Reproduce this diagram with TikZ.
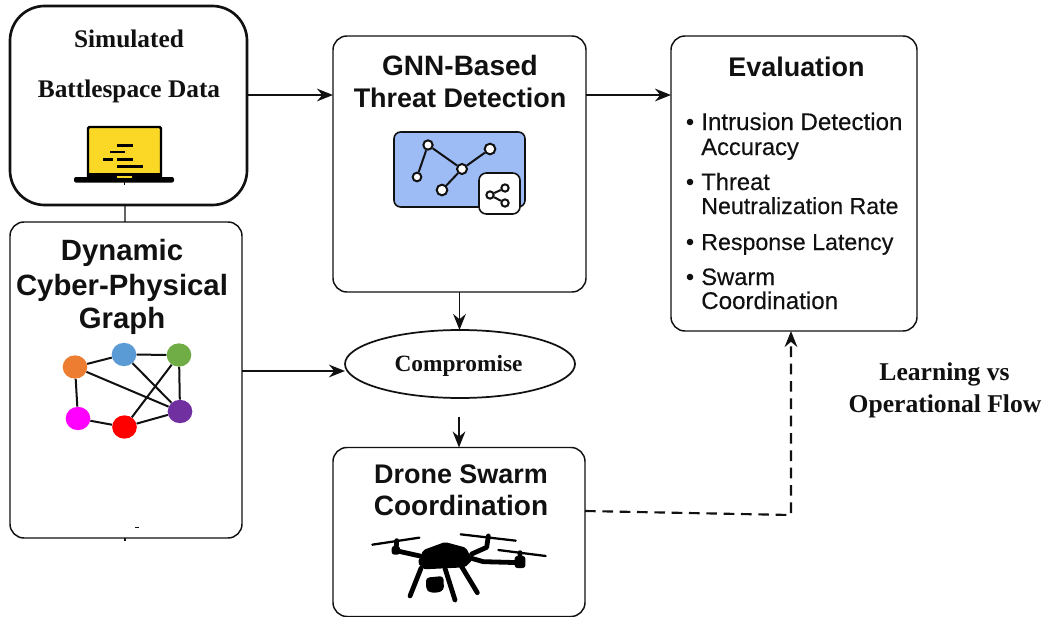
\documentclass[tikz,border=0pt]{standalone}
\usepackage{fontspec}
\setmainfont{Liberation Sans}
\newfontfamily\tms{Liberation Serif}
\newfontfamily\itmf[FakeBold=0.25]{Liberation Sans}
\usetikzlibrary{arrows.meta,shapes.geometric}
\definecolor{inkc}{HTML}{111111}
\definecolor{blueicon}{HTML}{9DBBF5}
\definecolor{yellowicon}{HTML}{FBD826}
\definecolor{vorange}{HTML}{ED7D31}
\definecolor{vblue}{HTML}{5B9BD5}
\definecolor{vgreen}{HTML}{70AD47}
\definecolor{vpurple}{HTML}{7030A0}
\definecolor{vmagenta}{HTML}{FF00FF}
\definecolor{vred}{HTML}{FF0000}
\tikzset{
  x=0.75pt,y=-0.75pt,
  boxa/.style={draw=inkc,line width=1.1pt,rounded corners=10.5pt,inner sep=0pt,outer sep=0pt},
  boxs/.style={boxa,line width=2pt,rounded corners=26pt},
  ttl/.style={anchor=base,inner sep=0pt,font=\fontsize{21pt}{21pt}\selectfont\bfseries,text=inkc},
  ttlc/.style={ttl,font=\fontsize{20.2pt}{20.2pt}\selectfont\bfseries},
  ttlb/.style={ttl,font=\fontsize{22pt}{22pt}\selectfont\bfseries},
  ser/.style={anchor=base,inner sep=0pt,font=\fontsize{19pt}{19pt}\selectfont\tms\bfseries,text=inkc},
  serb/.style={ser,font=\fontsize{19.2pt}{19.2pt}\selectfont\tms\bfseries},
  itm/.style={anchor=base west,inner sep=0pt,font=\fontsize{17.8pt}{17.8pt}\selectfont\itmf,text=inkc},
  itmn/.style={itm,font=\fontsize{17.4pt}{17.4pt}\selectfont\itmf},
  itmw/.style={itm,font=\fontsize{18.1pt}{18.1pt}\selectfont\itmf},
  arr/.style={-{Stealth[length=12pt,width=9.5pt]},draw=inkc,line width=0.95pt},
  gn/.style={circle,draw=inkc,fill=white,line width=1.5pt,inner sep=0pt,minimum size=7pt},
  gv/.style={ellipse,inner sep=0pt,minimum width=18.5pt,minimum height=17.5pt},
  ge/.style={draw=inkc,line width=1.5pt},
  dr/.style={draw=black,line cap=round,line join=round},
}
\begin{document}
\begin{tikzpicture}
\useasboundingbox (0,0) rectangle (1042,617);
\fill[white] (0,0) rectangle (1042,617);
% boxes
\node[boxs,minimum width=237*0.75pt,minimum height=199*0.75pt] (sim) at (128.5,105.5) {};
\node[boxa,minimum width=232*0.75pt,minimum height=316*0.75pt] (dyn) at (126,380) {};
\node[boxa,minimum width=253*0.75pt,minimum height=256*0.75pt] (gnn) at (459.5,164) {};
\node[boxa,minimum width=246*0.75pt,minimum height=295*0.75pt] (eval) at (794,183.5) {};
\node[boxa,minimum width=252*0.75pt,minimum height=169*0.75pt] (drn) at (459,532) {};
\node[ellipse,draw=inkc,line width=1.3pt,inner sep=0pt,outer sep=0pt,minimum width=230*0.75pt,minimum height=68*0.75pt] (cmp) at (460,364) {};
% texts
\node[ser] (t1) at (129,48) {Simulated};
\node[ser] (t2) at (129,98) {Battlespace Data};
\node[ttlb] (t3) at (122,260) {Dynamic};
\node[ttlb] (t4) at (122,295) {Cyber-Physical};
\node[ttlb] (t5) at (122,328) {Graph};
\node[ttl] (t6) at (460,76) {GNN-Based};
\node[ttlc] (t7) at (460,108) {Threat Detection};
\node[ttlc] (t8) at (461,483) {Drone Swarm};
\node[ttl] (t9) at (461,515) {Coordination};
\node[ttlc] (t10) at (796.5,77) {Evaluation};
\node[itmw] (i1) at (701,130) {Intrusion Detection};
\node[itm] (i2) at (701,155) {Accuracy};
\node[itm] (i3) at (701,190) {Threat};
\node[itmn] (i4) at (701,214) {Neutralization Rate};
\node[itmn] (i5) at (701,250) {Response Latency};
\node[itm] (i6) at (701,285) {Swarm};
\node[itmw] (i7) at (701,309) {Coordination};
\foreach \yy in {122,182,242,277} \fill[inkc] (690,\yy) circle (3.3);
\node[ser,font=\fontsize{17.5pt}{17.5pt}\selectfont\tms\bfseries] (t11) at (458.5,371) {Compromise};
\node[serb] (t12) at (944.5,380) {Learning vs};
\node[serb] (t13) at (945,412) {Operational Flow};
% connectors
\draw[arr] ([yshift=7.875pt]sim.east) -- ([yshift=51.75pt]gnn.west);
\draw[arr] ([yshift=51.75pt]gnn.east) -- ([yshift=66.375pt]eval.west);
\draw[draw=inkc,line width=0.95pt] ([xshift=-2.6pt]sim.south) -- ([xshift=-0.75pt]dyn.north);
\draw[arr,line width=1.2pt] ([yshift=6.75pt]dyn.east) -- ([yshift=-5.25pt]cmp.west);
\draw[arr] (gnn.south) -- (gnn.south |- cmp.north);
\coordinate (cmpout) at (460,417);
\draw[arr] (drn.north |- cmpout) -- (drn.north);
\coordinate (bend) at (791,515);
\draw[arr,dash pattern=on 8pt off 5pt,line width=1.6pt] ([yshift=15.75pt]drn.east) -- (bend) -- (bend |- eval.south);
\draw[draw=inkc,line width=0.9pt] (125,538) -- (125,541);
\draw[draw=inkc,line width=0.5pt] (135,527) -- (139,527);
% laptop
\draw[black,line width=1.8pt,fill=yellowicon,rounded corners=1pt] (88,127) rectangle (161,178);
\fill[black,rounded corners=1.5pt] (74,177) rectangle (174,182.5);
\fill[black] (87,173) rectangle (162,178);
\draw[yellowicon,line width=1.4pt] (117,177) -- (132,177);
\draw[black,line width=0.6pt] (124,182) -- (124,185);
\foreach \a/\b/\c in {117/133/145.5,110/125/152,103/113/159.5,117/133/159.5,117/143/166.5}
  \draw[black,line width=2pt] (\a,\c) -- (\b,\c);
% GNN icon
\draw[draw=inkc,line width=1.2pt,fill=blueicon,rounded corners=5pt] (394,132) rectangle (525,207);
\node[gn] (g1) at (428,145) {};
\node[gn,minimum size=6.5pt] (g2) at (417,177) {};
\node[gn,minimum size=8pt] (g3) at (490,149) {};
\node[gn,minimum size=7.5pt] (g4) at (462,169) {};
\node[gn,minimum size=8pt] (g5) at (442,190) {};
\draw[ge] (g1) -- (g2) (g1) -- (g4) (g4) -- (g3) (g4) -- (g5);
\draw[draw=inkc,line width=1.2pt,fill=white,rounded corners=5.5pt] (479,173) rectangle (520,214);
\node[gn,minimum size=5.5pt] (s1) at (505,188) {};
\node[gn,minimum size=5.5pt] (s2) at (490,195) {};
\node[gn,minimum size=5.5pt] (s3) at (505,203) {};
\draw[ge] (s2) -- (s1) (s2) -- (s3);
% graph
\node[gv,fill=vorange] (v1) at (75,367) {};
\node[gv,fill=vblue] (v2) at (124,354.5) {};
\node[gv,fill=vgreen] (v3) at (179,355) {};
\node[gv,fill=vpurple] (v4) at (180,411.5) {};
\node[gv,fill=vred] (v5) at (124.5,427) {};
\node[gv,fill=vmagenta] (v6) at (78,418.5) {};
\draw[ge] (v1) -- (v2) (v2) -- (v3) (v3) -- (v4) (v4) -- (v5) (v5) -- (v6) (v1) -- (v6) (v1) -- (v4) (v2) -- (v4) (v3) -- (v5);
% drone
\begin{scope}[shift={(340,510)},x=0.25pt,y=-0.25pt]
\fill[black,rounded corners=1.5pt] (233,158) -- (250,120) -- (315,96) -- (378,113) -- (397,150) -- (375,172) -- (250,178) -- cycle;
\draw[dr,line width=3.6pt] (240,138) -- (168,122) -- (170,92);
\draw[dr,line width=3.6pt] (395,132) -- (440,112) -- (445,78);
\draw[dr,line width=3.6pt] (395,145) -- (430,155) -- (540,158) -- (540,128);
\fill[black,rounded corners=2pt] (524,138) rectangle (556,174);
\fill[black,rounded corners=2pt] (155,108) rectangle (180,134);
\draw[dr,line width=1.7pt] (97,104) -- (238,83);
\draw[dr,line width=1.7pt] (362,73) -- (527,92);
\draw[dr,line width=1.7pt] (475,120) -- (617,138);
\draw[dr,line width=3.6pt] (243,175) -- (210,258);
\draw[dr,line width=3.6pt] (315,175) -- (345,270);
\draw[dr,line width=3.6pt] (365,170) -- (412,248);
\fill[black,rounded corners=2.5pt] (258,203) -- (310,198) -- (312,240) -- (295,248) -- (270,248) -- (258,238) -- cycle;
\end{scope}
\end{tikzpicture}
\end{document}
